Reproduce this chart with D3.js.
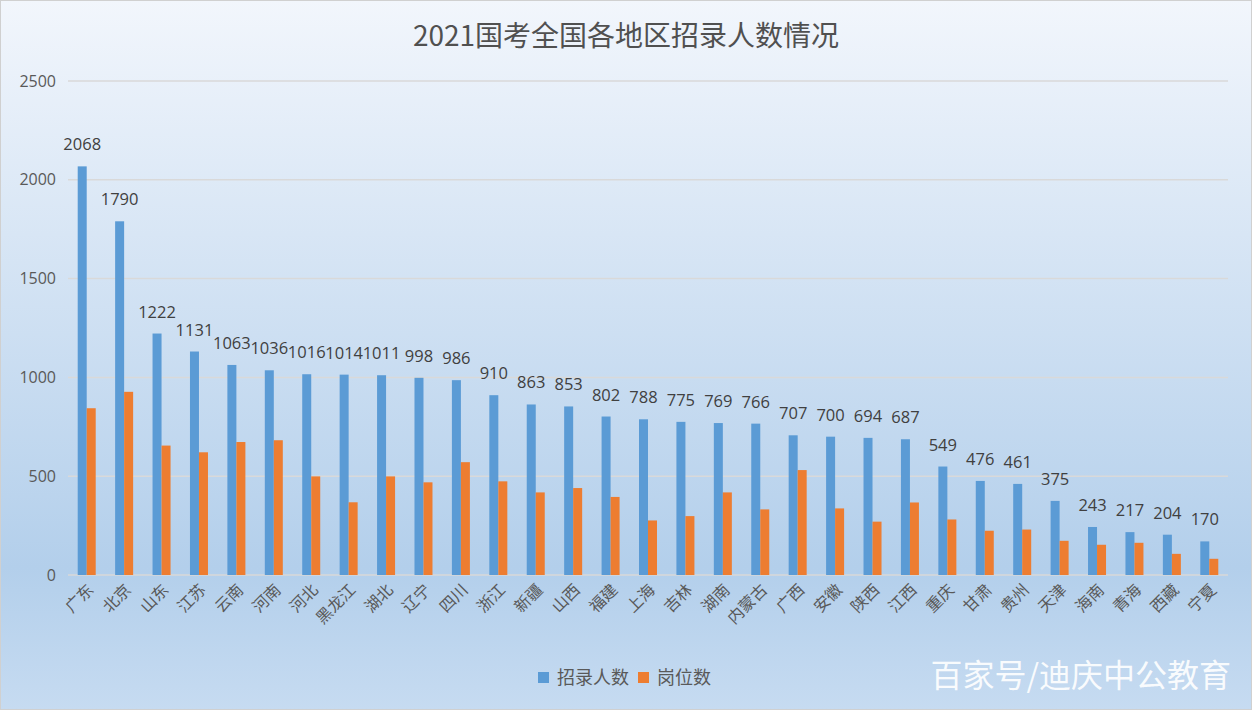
<!DOCTYPE html>
<html lang="zh">
<head>
<meta charset="UTF-8">
<script src="https://cdn.jsdelivr.net/npm/d3@7"></script>
<style>
    body { margin: 0; padding: 0; overflow: hidden; }
    svg { display: block; font-family: "Noto Sans CJK SC", "Open Sans", sans-serif; }
</style>
</head>
<body>
<div id="chart"></div>
<script>
    const width = 1252;
    const height = 710;

    const regions = ["广东","北京","山东","江苏","云南","河南","河北","黑龙江","湖北","辽宁","四川","浙江","新疆","山西","福建","上海","吉林","湖南","内蒙古","广西","安徽","陕西","江西","重庆","甘肃","贵州","天津","海南","青海","西藏","宁夏"];
    const recruits = [2068,1790,1222,1131,1063,1036,1016,1014,1011,998,986,910,863,853,802,788,775,769,766,707,700,694,687,549,476,461,375,243,217,204,170];
    const positions = [844,927,655,621,673,682,499,368,499,469,571,474,418,440,395,276,298,418,332,531,337,270,367,281,224,230,173,153,163,107,82];
    const yTicks = [0,500,1000,1500,2000,2500];
    const seriesNames = ["招录人数","岗位数"];
    const colors = ["#5b9bd5","#ed7d31"];

    const margin = {left: 68, right: 24, top: 81, bottom: 135};

    const svg = d3.select("#chart").append("svg")
        .attr("width", width)
        .attr("height", height);

    const defs = svg.append("defs");
    const grad = defs.append("linearGradient")
        .attr("id", "bg").attr("x1", 0).attr("y1", 0).attr("x2", 0).attr("y2", 1);
    grad.append("stop").attr("offset", "0%").attr("stop-color", "#f2f6fc");
    grad.append("stop").attr("offset", "80%").attr("stop-color", "#b3cfeb");
    grad.append("stop").attr("offset", "100%").attr("stop-color", "#c6dbf1");

    svg.append("rect")
        .attr("x", 0.5).attr("y", 0.5)
        .attr("width", width - 1).attr("height", height - 1)
        .attr("fill", "url(#bg)")
        .attr("stroke", "#d0d0d0");

    const x = d3.scaleBand()
        .domain(regions)
        .range([margin.left, width - margin.right])
        .paddingInner(0)
        .paddingOuter(0);

    const y = d3.scaleLinear()
        .domain([0, 2500])
        .range([height - margin.bottom, margin.top]);

    const barW = 9;

    // grid lines
    svg.append("g")
        .selectAll("line")
        .data(yTicks)
        .join("line")
        .attr("x1", margin.left)
        .attr("x2", width - margin.right)
        .attr("y1", d => y(d))
        .attr("y2", d => y(d))
        .attr("stroke", "#d9d9d9")
        .attr("stroke-width", 1.5);

    // y axis labels
    const yAxis = d3.axisLeft(y).tickValues(yTicks).tickFormat(d3.format("d")).tickSize(0).tickPadding(12);
    const yg = svg.append("g")
        .attr("transform", `translate(${margin.left},0)`)
        .call(yAxis);
    yg.select(".domain").remove();
    yg.selectAll("text")
        .attr("font-size", 16)
        .attr("fill", "#595959")
        .attr("font-family", "'Open Sans', sans-serif");

    // bars
    const center = d => x(d) + x.bandwidth() / 2;

    svg.append("g")
        .selectAll("rect")
        .data(regions)
        .join("rect")
        .attr("x", d => center(d) - barW)
        .attr("width", barW)
        .attr("y", (d, i) => y(recruits[i]))
        .attr("height", (d, i) => y(0) - y(recruits[i]))
        .attr("fill", colors[0]);

    svg.append("g")
        .selectAll("rect")
        .data(regions)
        .join("rect")
        .attr("x", d => center(d))
        .attr("width", barW)
        .attr("y", (d, i) => y(positions[i]))
        .attr("height", (d, i) => y(0) - y(positions[i]))
        .attr("fill", colors[1]);

    // data labels
    svg.append("g")
        .selectAll("text")
        .data(regions)
        .join("text")
        .attr("x", d => center(d) - barW / 2)
        .attr("y", (d, i) => y(recruits[i]) - 16)
        .attr("text-anchor", "middle")
        .attr("font-size", 16.5)
        .attr("fill", "#404040")
        .attr("font-family", "'Open Sans', sans-serif")
        .text((d, i) => recruits[i]);

    // x labels
    svg.append("g")
        .selectAll("text")
        .data(regions)
        .join("text")
        .attr("transform", d => `translate(${center(d) + 4},${y(0) + 12}) rotate(-45)`)
        .attr("text-anchor", "end")
        .attr("dy", "0.35em")
        .attr("font-size", 16)
        .attr("fill", "#595959")
        .text(d => d);

    // title
    svg.append("text")
        .attr("x", 626)
        .attr("y", 46)
        .attr("text-anchor", "middle")
        .attr("font-size", 28)
        .attr("fill", "#505050")
        .text("2021国考全国各地区招录人数情况");

    // legend
    const legend = svg.append("g").attr("transform", "translate(538,678)");
    const legendX = [0, 100];
    seriesNames.forEach((name, i) => {
        legend.append("rect")
            .attr("x", legendX[i])
            .attr("y", -6)
            .attr("width", 11)
            .attr("height", 11)
            .attr("fill", colors[i]);
        legend.append("text")
            .attr("x", legendX[i] + 19)
            .attr("y", 0)
            .attr("dy", "0.35em")
            .attr("font-size", 18)
            .attr("fill", "#595959")
            .text(name);
    });

    // watermark
    svg.append("text")
        .attr("x", 1231)
        .attr("y", 687)
        .attr("text-anchor", "end")
        .attr("font-size", 32)
        .attr("fill", "#ffffff")
        .attr("opacity", 0.9)
        .text("百家号/迪庆中公教育");
</script>
</body>
</html>
